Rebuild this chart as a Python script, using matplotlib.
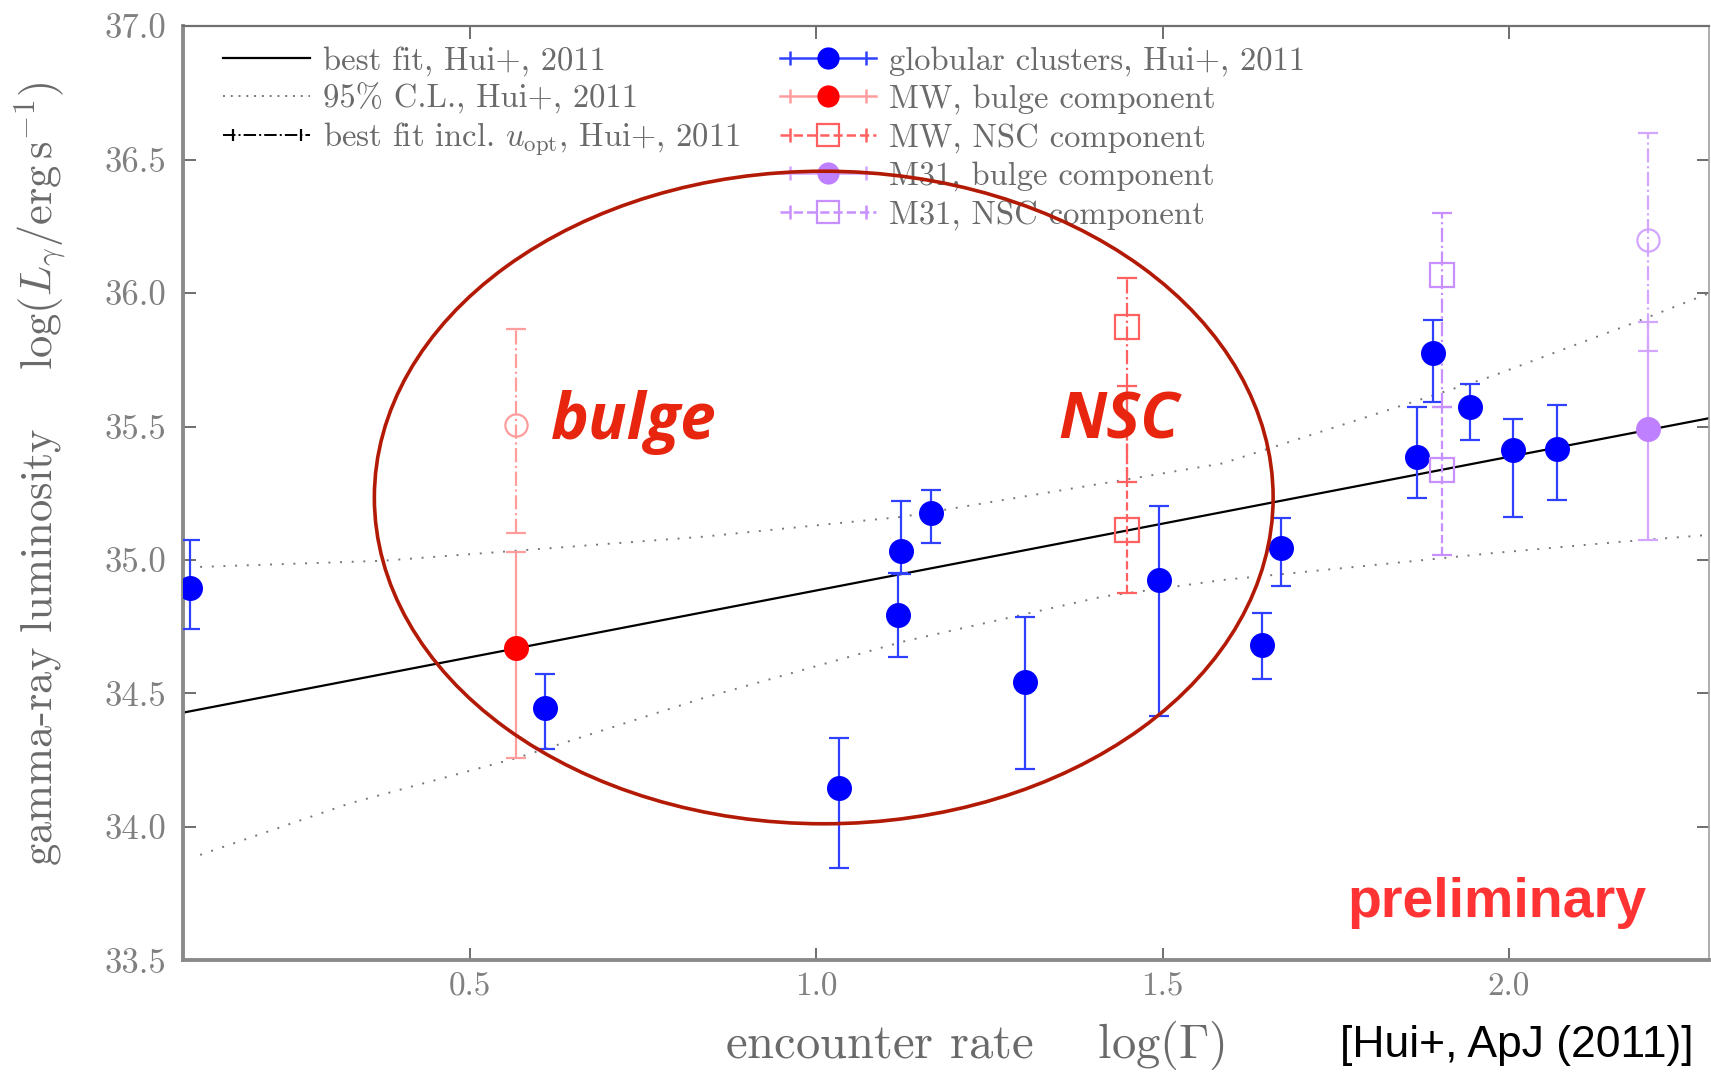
import numpy as np
import matplotlib
matplotlib.use("Agg")
import matplotlib.pyplot as plt
from matplotlib.lines import Line2D
from matplotlib.patches import Ellipse
from matplotlib.legend_handler import HandlerLine2D, HandlerTuple

plt.rcParams['font.family'] = 'cmr10'
plt.rcParams['mathtext.fontset'] = 'cm'
plt.rcParams['axes.unicode_minus'] = False

# globular clusters (Hui+ 2011): log(Gamma), log(L_gamma) and error bar ends
gc_x = [0.096, 0.608, 1.032, 1.118, 1.122, 1.165, 1.301, 1.495, 1.643, 1.671, 1.868, 1.890, 1.944, 2.006, 2.070]
gc_y = [34.894, 34.444, 34.147, 34.794, 35.035, 35.175, 34.544, 34.925, 34.681, 35.044, 35.387, 35.774, 35.574, 35.412, 35.414]
gc_hi = [35.075, 34.573, 34.332, 34.950, 35.222, 35.262, 34.785, 35.202, 34.800, 35.158, 35.574, 35.899, 35.658, 35.528, 35.581]
gc_lo = [34.741, 34.291, 33.844, 34.635, 34.947, 35.065, 34.216, 34.416, 34.554, 34.904, 35.231, 35.593, 35.450, 35.160, 35.225]

# Milky Way bulge / NSC components (second entry: incl. u_opt)
mw_bulge_x = [0.566]
mw_bulge_y = [34.669]
mw_bulge_hi = [35.029]
mw_bulge_lo = [34.257]
mw_bulge_opt_y = [35.505]
mw_bulge_opt_hi = [35.864]
mw_bulge_opt_lo = [35.100]

mw_nsc_x = [1.448]
mw_nsc_y = [35.112]
mw_nsc_hi = [35.650]
mw_nsc_lo = [34.875]
mw_nsc_opt_y = [35.874]
mw_nsc_opt_hi = [36.058]
mw_nsc_opt_lo = [35.293]

# M31 bulge / NSC components
m31_bulge_x = [2.201]
m31_bulge_y = [35.490]
m31_bulge_hi = [35.893]
m31_bulge_lo = [35.075]
m31_bulge_opt_y = [36.198]
m31_bulge_opt_hi = [36.600]
m31_bulge_opt_lo = [35.783]

m31_nsc_x = [1.903]
m31_nsc_y = [35.337]
m31_nsc_hi = [35.574]
m31_nsc_lo = [35.019]
m31_nsc_opt_y = [36.068]
m31_nsc_opt_hi = [36.300]
m31_nsc_opt_lo = [35.574]

# best fit line and 95% confidence band
fit_x = [0.0856, 2.289]
fit_y = [34.428, 35.531]
cl_x = [0.110, 0.374, 0.615, 0.836, 1.125, 1.414, 1.587, 1.782, 1.974, 2.166, 2.289]
cl_up = [34.974, 34.997, 35.044, 35.087, 35.162, 35.287, 35.362, 35.525, 35.687, 35.874, 35.999]
cl_low_x = [0.110, 0.326, 0.566, 0.836, 1.125, 1.414, 1.587, 1.782, 1.974, 2.166, 2.289]
cl_low = [33.895, 34.088, 34.257, 34.482, 34.694, 34.863, 34.925, 34.975, 35.025, 35.069, 35.094]

x_ticks = [0.5, 1.0, 1.5, 2.0]
y_ticks = [33.5, 34.0, 34.5, 35.0, 35.5, 36.0, 36.5, 37.0]

BLUE = '#0000ff'
BLUE_ERR = '#3040ff'
RED = '#ff0000'
RED_ERR = '#ff9d9d'
PURPLE = '#bf80ff'
PURPLE_ERR = '#d2a6ff'
GREY_TXT = '#6a6a6a'


def errbar(ax, x, y, lo, hi, color, ecolor, marker, ls='-', filled=True, ms=18, zorder=3):
    y = np.asarray(y)
    yerr = [y - np.asarray(lo), np.asarray(hi) - y]
    face = color if filled else 'none'
    eb = ax.errorbar(x, y, yerr=yerr, fmt=marker, ms=ms, mfc=face, mec=color if filled else ecolor,
                     mew=0 if filled else 1.6, ecolor=ecolor, elinewidth=1.6, capsize=7, capthick=1.6,
                     zorder=zorder)
    eb[2][0].set_linestyle(ls)
    for cap in eb[1]:
        cap.set_markeredgewidth(1.6)
    return eb


fig = plt.figure(figsize=(17.11, 10.72), dpi=100)
ax = fig.add_axes([0.1071, 0.1042, 0.8917, 0.8714])

ax.plot(fit_x, fit_y, color='black', lw=1.6, zorder=2)
ax.plot(cl_x, cl_up, color='#777777', lw=1.4, ls=(0, (1, 5)), zorder=2)
ax.plot(cl_low_x, cl_low, color='#777777', lw=1.4, ls=(0, (1, 5)), zorder=2)

errbar(ax, gc_x, gc_y, gc_lo, gc_hi, BLUE, BLUE_ERR, 'o')
errbar(ax, mw_bulge_x, mw_bulge_opt_y, mw_bulge_opt_lo, mw_bulge_opt_hi, RED, RED_ERR, 'o', ls='-.', filled=False, ms=16)
errbar(ax, mw_bulge_x, mw_bulge_y, mw_bulge_lo, mw_bulge_hi, RED, RED_ERR, 'o')
errbar(ax, mw_nsc_x, mw_nsc_opt_y, mw_nsc_opt_lo, mw_nsc_opt_hi, RED, '#ff6060', 's', ls='-.', filled=False, ms=17)
errbar(ax, mw_nsc_x, mw_nsc_y, mw_nsc_lo, mw_nsc_hi, RED, '#ff6060', 's', ls='--', filled=False, ms=17)
errbar(ax, m31_bulge_x, m31_bulge_opt_y, m31_bulge_opt_lo, m31_bulge_opt_hi, PURPLE, PURPLE_ERR, 'o', ls='-.', filled=False, ms=16)
errbar(ax, m31_bulge_x, m31_bulge_y, m31_bulge_lo, m31_bulge_hi, PURPLE, PURPLE_ERR, 'o')
errbar(ax, m31_nsc_x, m31_nsc_opt_y, m31_nsc_opt_lo, m31_nsc_opt_hi, PURPLE, '#c890ff', 's', ls='-.', filled=False, ms=17)
errbar(ax, m31_nsc_x, m31_nsc_y, m31_nsc_lo, m31_nsc_hi, PURPLE, '#c890ff', 's', ls='--', filled=False, ms=17)

ax.set_xlim(0.0856, 2.289)
ax.set_ylim(33.5, 37.0)
ax.set_xticks(x_ticks)
ax.set_xticklabels([f'{v:.1f}' for v in x_ticks])
ax.set_yticks(y_ticks)
ax.set_yticklabels([f'{v:.1f}' for v in y_ticks])
ax.tick_params(direction='in', length=9, width=1.2, color='#555555', top=True, right=True,
               labelcolor='#808080')
ax.tick_params(axis='x', pad=9, labelsize=24)
ax.tick_params(axis='y', pad=12, labelsize=25)
for side in ['left', 'bottom']:
    ax.spines[side].set_linewidth(2.8)
    ax.spines[side].set_color('#8a8a8a')
ax.spines['top'].set_linewidth(1.6)
ax.spines['top'].set_color('#707070')
ax.spines['right'].set_linewidth(1.2)
ax.spines['right'].set_color('#a0a0a0')

ax.set_xlabel(r'encounter rate    $\log(\Gamma)$', fontsize=35, color=GREY_TXT, va='center')
ax.xaxis.set_label_coords(0.519, -0.091)
ax.set_ylabel(r'gamma-ray luminosity    $\log(L_\gamma/{\rm erg\,s^{-1}})$', fontsize=32,
              color=GREY_TXT, va='center')
ax.yaxis.set_label_coords(-0.094, 0.521)

# legends
h_fit = Line2D([], [], color='black', lw=1.6)
h_cl = Line2D([], [], color='#777777', lw=1.4, ls=(0, (1, 3)))
h_opt_line = Line2D([], [], color='black', lw=1.4, ls='-.')
h_opt_caps = Line2D([], [], color='black', ls='none', marker='|', ms=9, mew=1.6)

LEG_FS = 23.5
leg1 = ax.legend([h_fit, h_cl, (h_opt_line, h_opt_caps)],
                 ['best fit, Hui+, 2011', '95% C.L., Hui+, 2011', r'best fit incl. $u_{\rm opt}$, Hui+, 2011'],
                 loc='upper left', bbox_to_anchor=(0.026, 0.979), frameon=False, fontsize=LEG_FS,
                 handlelength=2.68, handletextpad=0.4, labelspacing=0.2, borderpad=0, borderaxespad=0,
                 handler_map={tuple: HandlerTuple(ndivide=1, pad=0),
                              h_opt_caps: HandlerLine2D(numpoints=2)})
for t in leg1.get_texts():
    t.set_color(GREY_TXT)
ax.add_artist(leg1)


def legend_handle(color, ecolor, marker, ls, filled):
    line = Line2D([], [], color=ecolor, lw=1.8, ls=ls)
    caps = Line2D([], [], color=ecolor, ls='none', marker='|', ms=10, mew=1.8)
    mk = Line2D([], [], color=color, ls='none', marker=marker, ms=16,
                mfc=color if filled else 'none', mec=color if filled else ecolor,
                mew=0 if filled else 1.6)
    return (line, caps, mk), caps


hands = []
caps_list = []
for spec in [(BLUE, BLUE_ERR, 'o', '-', True),
             (RED, RED_ERR, 'o', '-', True),
             (RED, '#ff6060', 's', '--', False),
             (PURPLE, PURPLE_ERR, 'o', '-', True),
             (PURPLE, '#c890ff', 's', '--', False)]:
    h, c = legend_handle(*spec)
    hands.append(h)
    caps_list.append(c)

hmap = {tuple: HandlerTuple(ndivide=1, pad=0)}
for c in caps_list:
    hmap[c] = HandlerLine2D(numpoints=2)

leg2 = ax.legend(hands,
                 ['globular clusters, Hui+, 2011', 'MW, bulge component', 'MW, NSC component',
                  'M31, bulge component', 'M31, NSC component'],
                 loc='upper left', bbox_to_anchor=(0.391, 0.979), frameon=False, fontsize=LEG_FS,
                 handlelength=2.95, handletextpad=0.4, labelspacing=0.26, borderpad=0, borderaxespad=0,
                 handler_map=hmap)
for t in leg2.get_texts():
    t.set_color(GREY_TXT)

# highlighted region and slide annotations
ell = Ellipse((1.0106, 35.234), 1.298, 2.445, fill=False, ec='#b31a05', lw=2.6, zorder=10)
ax.add_patch(ell)
ax.text(0.241, 0.5584, 'bulge', transform=ax.transAxes, fontsize=46, color='#e8250f',
        family=['Open Sans', 'DejaVu Sans'], weight='bold', style='italic', va='baseline', zorder=11)
ax.text(0.5733, 0.5584, 'NSC', transform=ax.transAxes, fontsize=46, color='#e8250f',
        family=['Open Sans', 'DejaVu Sans'], weight='bold', style='italic', va='baseline', zorder=11)
ax.text(0.7633, 0.0467, 'preliminary', transform=ax.transAxes, fontsize=40, color='#ff3333',
        family=['Liberation Sans', 'DejaVu Sans'], weight='bold', va='baseline', zorder=11)
fig.text(0.9895, 0.025, '[Hui+, ApJ (2011)]', fontsize=32, color='black',
         family=['Liberation Sans', 'DejaVu Sans'], ha='right', va='center')

fig.savefig('out.png', dpi=100)
